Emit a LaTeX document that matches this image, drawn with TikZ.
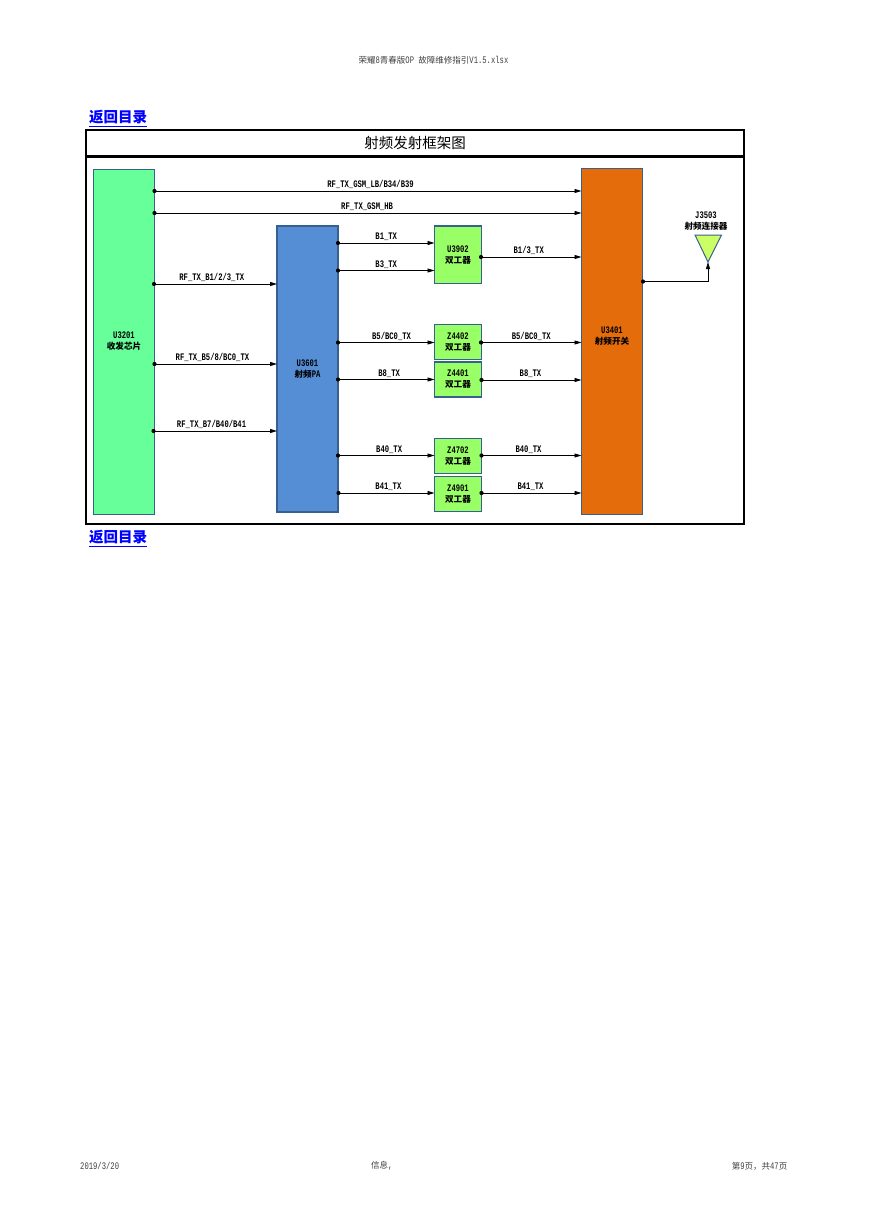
\documentclass[tikz,border=0pt]{standalone}
\usepackage{fontspec}
\newfontfamily\lat[FakeStretch=0.72]{Liberation Mono}
\newfontfamily\cjk{Noto Sans CJK SC}
\usetikzlibrary{arrows.meta}
\definecolor{edgeblue}{HTML}{376092}
\definecolor{chipgreen}{HTML}{66FF99}
\definecolor{pablue}{HTML}{558ED5}
\definecolor{sworange}{HTML}{E46C0A}
\definecolor{dupgreen}{HTML}{99FF66}
\definecolor{antgreen}{HTML}{CCFF66}
\tikzset{
	chip/.style={draw=edgeblue,line width=.7pt,outer sep=0,inner sep=0,align=center,font=\lat\bfseries\fontsize{10}{11}\selectfont},
	dup/.style={chip,fill=dupgreen,minimum width=47,minimum height=35},
	tall/.style={chip,minimum width=61},
	sig/.style={-{Stealth[length=7pt,width=4pt,inset=0pt]},black,line width=.8pt},
	dot/.style={circle,fill=black,inner sep=0,minimum size=4.2pt},
	lbl/.style={font=\lat\bfseries\fontsize{10}{10}\selectfont,inner sep=0,anchor=base,yshift=3.5pt},
	link/.style={font=\cjk\bfseries\fontsize{14.5}{16}\selectfont,text=blue,inner sep=0},
	page/.style={font=\lat\fontsize{10}{10}\selectfont,text=black!75,inner sep=0}
}
\newcommand{\zh}[1]{{\cjk\fontsize{8.6}{11}\selectfont #1}}
\newcommand{\zp}[1]{{\cjk\fontsize{8.5}{10}\selectfont #1}}
\begin{document}
\begin{tikzpicture}[x=1pt,y=-1pt]
	\useasboundingbox [fill=white] (0,0) rectangle (868,1228);
	% page texts
	\node [page] (hdr) at (433.5,60) {\zp{荣耀}8\zp{青春版}OP \zp{故障维修指引}V1.5.xlsx};
	\node [page,anchor=west] (ftl) at (80,1166) {2019/3/20};
	\node [page,anchor=west] (ftm) at (371,1166) {\zp{信息},};
	\node [page,anchor=east] (ftr) at (787.5,1166) {\zp{第}9\zp{页，共}47\zp{页}};
	\node [link] (back1) at (118,118.5) {\underline{返回目录}};
	\node [link] (back2) at (118,538.5) {\underline{返回目录}};
	% frame
	\node [draw,line width=2pt,minimum width=658,minimum height=394,outer sep=0] (frame) at (415,327) {};
	\node [draw,line width=2pt,minimum width=658,minimum height=26,outer sep=0,font=\cjk\fontsize{14.5}{16}\selectfont] (title) at (415,143) {射频发射框架图};
	\draw [line width=3pt] (title.south west) -- (title.south east);
	% blocks
	\node [tall,fill=chipgreen,minimum height=345] (u3201) at (124,341.5) {U3201\\\zh{收发芯片}};
	\node [tall,fill=pablue,minimum height=286,line width=1.4pt] (u3601) at (307.5,369) {U3601\\\zh{射频}PA};
	\node [tall,fill=sworange,minimum height=346] (u3401) at (612,341.5) {U3401\\\zh{射频开关}\\~};
	\node [dup,minimum height=57.5,line width=1.1pt] (u3902) at (458,254.75) {U3902\\\zh{双工器}};
	\node [dup] (z4402) at (458,342) {Z4402\\\zh{双工器}};
	\node [dup,line width=1.1pt] (z4401) at (458,379.5) {Z4401\\\zh{双工器}};
	\node [dup] (z4702) at (458,456) {Z4702\\\zh{双工器}};
	\node [dup] (z4901) at (458,494) {Z4901\\\zh{双工器}};
	% antenna
	\draw [draw=edgeblue,fill=antgreen,line width=1pt] (695,235) -- (721.5,235) -- (708,262) -- cycle;
	\coordinate (j3503) at (708,262);
	\node [chip,draw=none] (j3503lb) at (706,221) {J3503\\\zh{射频连接器}};
	% start points
	\node [dot] (a1) at (154.5,191) {};
	\node [dot] (a2) at (154.5,213) {};
	\node [dot] (a3) at (154,284) {};
	\node [dot] (a4) at (154.5,364) {};
	\node [dot] (a5) at (153.5,431) {};
	\node [dot] (p1) at (338,243) {};
	\node [dot] (p2) at (338,270.5) {};
	\node [dot] (p3) at (338,342.5) {};
	\node [dot] (p4) at (338,379.5) {};
	\node [dot] (p5) at (338,455.5) {};
	\node [dot] (p6) at (338.5,493) {};
	\node [dot] (d1) at (481,257) {};
	\node [dot] (d2) at (481,342.5) {};
	\node [dot] (d3) at (481.5,380) {};
	\node [dot] (d4) at (481.5,455.5) {};
	\node [dot] (d5) at (481.5,493) {};
	\node [dot] (s1) at (643,281.5) {};
	% connectors
	\draw [sig] (a1.center) -- (a1 -| u3401.west) node [lbl,pos=.506] {RF\_TX\_GSM\_LB/B34/B39};
	\draw [sig] (a2.center) -- (a2 -| u3401.west) node [lbl,pos=.498] {RF\_TX\_GSM\_HB};
	\draw [sig] (a3.center) -- (a3 -| u3601.west) node [lbl,pos=.47] {RF\_TX\_B1/2/3\_TX};
	\draw [sig] (a4.center) -- (a4 -| u3601.west) node [lbl,pos=.473] {RF\_TX\_B5/8/BC0\_TX};
	\draw [sig] (a5.center) -- (a5 -| u3601.west) node [lbl,pos=.47] {RF\_TX\_B7/B40/B41};
	\draw [sig] (p1.center) -- (p1 -| u3902.west) node [lbl,midway] {B1\_TX};
	\draw [sig] (p2.center) -- (p2 -| u3902.west) node [lbl,midway] {B3\_TX};
	\draw [sig] (p3.center) -- (p3 -| z4402.west) node [lbl,pos=.555] {B5/BC0\_TX};
	\draw [sig] (p4.center) -- (p4 -| z4401.west) node [lbl,pos=.53] {B8\_TX};
	\draw [sig] (p5.center) -- (p5 -| z4702.west) node [lbl,pos=.53] {B40\_TX};
	\draw [sig] (p6.center) -- (p6 -| z4901.west) node [lbl,pos=.52] {B41\_TX};
	\draw [sig] (d1.center) -- (d1 -| u3401.west) node [lbl,pos=.475] {B1/3\_TX};
	\draw [sig] (d2.center) -- (d2 -| u3401.west) node [lbl,midway] {B5/BC0\_TX};
	\draw [sig] (d3.center) -- (d3 -| u3401.west) node [lbl,pos=.49] {B8\_TX};
	\draw [sig] (d4.center) -- (d4 -| u3401.west) node [lbl,pos=.47] {B40\_TX};
	\draw [sig] (d5.center) -- (d5 -| u3401.west) node [lbl,pos=.49] {B41\_TX};
	\draw [sig] (s1.center) -| (j3503);
\end{tikzpicture}
\end{document}
